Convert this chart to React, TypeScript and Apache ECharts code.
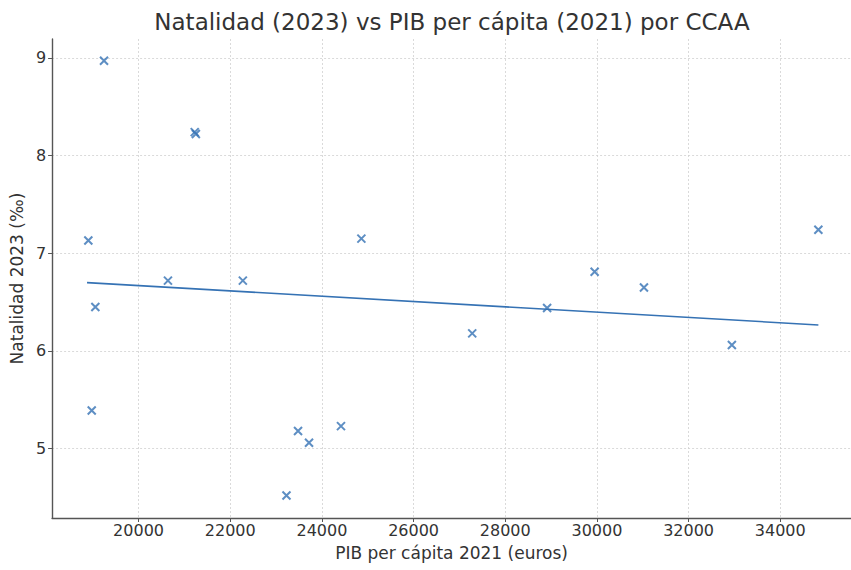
import React, { useEffect, useRef } from "react";
import * as echarts from "echarts";

const pib = [19246, 21225, 21250, 18904, 19057, 18978, 20641, 22275, 23479, 23719, 24416, 23227, 24861, 27279, 28913, 29950, 31026, 32944, 34831];
const natalidad = [8.97, 8.24, 8.22, 7.13, 6.45, 5.39, 6.72, 6.72, 5.18, 5.06, 5.23, 4.52, 7.15, 6.18, 6.44, 6.81, 6.65, 6.06, 7.24];
const trendX = [18876, 34831];
const trendY = [6.699, 6.266];
const xTicks = [20000, 22000, 24000, 26000, 28000, 30000, 32000, 34000];
const yTicks = [5, 6, 7, 8, 9];

const title = "Natalidad (2023) vs PIB per cápita (2021) por CCAA";
const xName = "PIB per cápita 2021 (euros)";
const yName = "Natalidad 2023 (‰)";

const BLUE = "#3572b4";
const FONT = "DejaVu Sans";

export default function App() {
  const ref = useRef<HTMLDivElement>(null);
  useEffect(() => {
    if (!ref.current) return;
    const chart = echarts.init(ref.current, null, { renderer: "svg" });
    const axisCommon = {
      axisLine: { show: true, lineStyle: { color: "#555", width: 1.4 } },
      axisTick: { show: true, length: 4, lineStyle: { color: "#555", width: 1 } },
      splitLine: { show: true, lineStyle: { color: "#d0d0d0", type: [2, 2], width: 0.8 } },
      nameTextStyle: { fontFamily: FONT, fontSize: 17, color: "#333" },
    };
    chart.setOption({
      animation: false,
      backgroundColor: "#fff",
      graphic: [
        {
          type: "text",
          x: 452,
          y: 22,
          style: {
            text: title,
            fontFamily: FONT,
            fontSize: 23,
            fill: "#333",
            textAlign: "center",
            textVerticalAlign: "middle",
          },
        },
      ],
      grid: { left: 51, right: 0, top: 39, bottom: 52, containLabel: false },
      xAxis: {
        type: "value",
        min: 18113,
        max: 35543,
        name: xName,
        nameLocation: "middle",
        nameGap: 26,
        ...axisCommon,
        axisTick: { ...axisCommon.axisTick, customValues: xTicks },
        axisLabel: {
          customValues: xTicks,
          formatter: (v: number) => String(v),
          fontFamily: FONT,
          fontSize: 16,
          color: "#333",
          margin: 4,
        },
      },
      yAxis: {
        type: "value",
        min: 4.29,
        max: 9.193,
        name: yName,
        nameLocation: "middle",
        nameGap: 24,
        ...axisCommon,
        axisTick: { ...axisCommon.axisTick, customValues: yTicks },
        axisLabel: {
          customValues: yTicks,
          formatter: (v: number) => String(v),
          fontFamily: FONT,
          fontSize: 16,
          color: "#333",
          margin: 6,
        },
      },
      series: [
        {
          type: "line",
          data: trendX.map((x, i) => [x, trendY[i]]),
          symbol: "none",
          lineStyle: { color: BLUE, width: 1.6 },
          z: 2,
        },
        {
          type: "scatter",
          data: pib.map((x, i) => [x, natalidad[i]]),
          symbol: "path://M0,0L10,10M10,0L0,10",
          symbolSize: 8,
          itemStyle: { color: "none", borderColor: BLUE, borderWidth: 2 },
          z: 3,
        },
      ],
    });
    return () => chart.dispose();
  }, []);
  return (
    <div
      ref={ref}
      style={{ position: "absolute", left: 0, top: 0, width: 851, height: 570 }}
    />
  );
}
